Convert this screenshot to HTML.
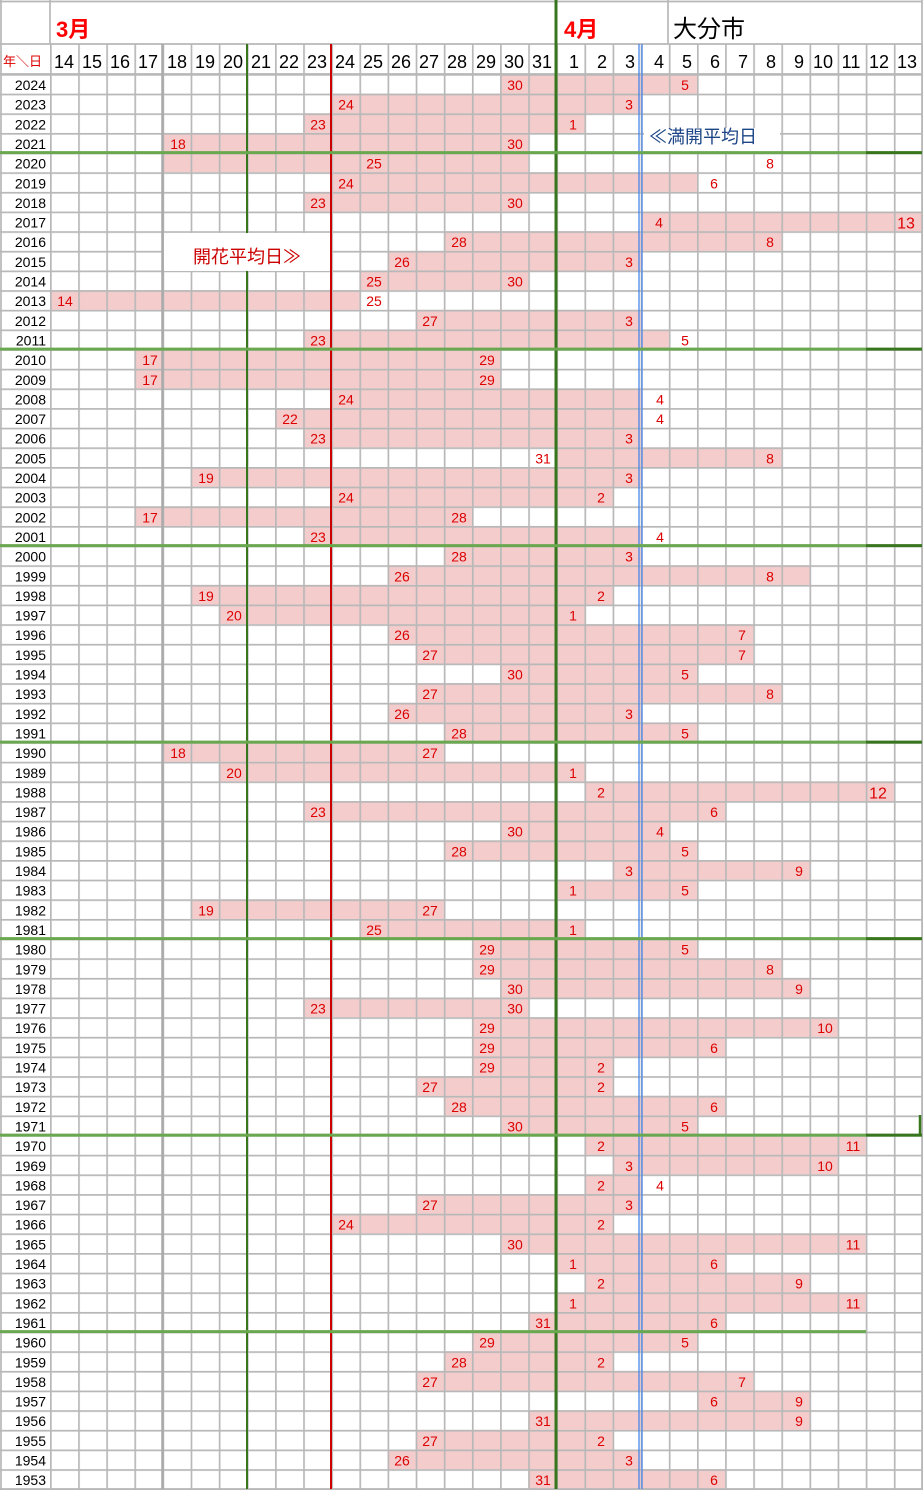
<!DOCTYPE html>
<html><head><meta charset="utf-8"><style>
html,body{margin:0;padding:0;background:#fff}
svg{display:block}
.y{font:14px "Liberation Sans",sans-serif;fill:#000;text-anchor:end}
.l{font:14px "Liberation Sans",sans-serif;fill:#d00;text-anchor:middle}
.d{font:18px "Liberation Sans",sans-serif;fill:#000;text-anchor:middle}
</style></head><body>
<svg width="924" height="1492" viewBox="0 0 924 1492" xmlns="http://www.w3.org/2000/svg">
<defs>
<pattern id="h" x="0" y="74" width="922" height="19.65" patternUnits="userSpaceOnUse"><path d="M0 0H922" stroke="#b8b8b8" stroke-width="3.4" fill="none"/></pattern>
<pattern id="v" x="50" y="44" width="28.129" height="1500" patternUnits="userSpaceOnUse"><path d="M0 0V1500" stroke="#b8b8b8" stroke-width="3.4" fill="none"/></pattern>
</defs>
<rect width="924" height="1492" fill="#fff"/>
<g transform="translate(50,74) scale(28.129,19.65)" fill="#f4cccc">
<rect x="16" y="0" width="7" height="1"/>
<rect x="10" y="1" width="11" height="1"/>
<rect x="9" y="2" width="10" height="1"/>
<rect x="4" y="3" width="13" height="1"/>
<rect x="4" y="4" width="13" height="1"/>
<rect x="10" y="5" width="13" height="1"/>
<rect x="9" y="6" width="8" height="1"/>
<rect x="21" y="7" width="10" height="1"/>
<rect x="14" y="8" width="12" height="1"/>
<rect x="12" y="9" width="9" height="1"/>
<rect x="11" y="10" width="6" height="1"/>
<rect x="0" y="11" width="11" height="1"/>
<rect x="13" y="12" width="8" height="1"/>
<rect x="9" y="13" width="13" height="1"/>
<rect x="3" y="14" width="13" height="1"/>
<rect x="3" y="15" width="13" height="1"/>
<rect x="10" y="16" width="11" height="1"/>
<rect x="8" y="17" width="13" height="1"/>
<rect x="9" y="18" width="12" height="1"/>
<rect x="18" y="19" width="8" height="1"/>
<rect x="5" y="20" width="16" height="1"/>
<rect x="10" y="21" width="10" height="1"/>
<rect x="3" y="22" width="12" height="1"/>
<rect x="9" y="23" width="12" height="1"/>
<rect x="14" y="24" width="7" height="1"/>
<rect x="12" y="25" width="15" height="1"/>
<rect x="5" y="26" width="15" height="1"/>
<rect x="6" y="27" width="13" height="1"/>
<rect x="12" y="28" width="13" height="1"/>
<rect x="13" y="29" width="12" height="1"/>
<rect x="16" y="30" width="7" height="1"/>
<rect x="13" y="31" width="13" height="1"/>
<rect x="12" y="32" width="9" height="1"/>
<rect x="14" y="33" width="9" height="1"/>
<rect x="4" y="34" width="10" height="1"/>
<rect x="6" y="35" width="13" height="1"/>
<rect x="19" y="36" width="11" height="1"/>
<rect x="9" y="37" width="15" height="1"/>
<rect x="16" y="38" width="6" height="1"/>
<rect x="14" y="39" width="9" height="1"/>
<rect x="20" y="40" width="7" height="1"/>
<rect x="18" y="41" width="5" height="1"/>
<rect x="5" y="42" width="9" height="1"/>
<rect x="11" y="43" width="8" height="1"/>
<rect x="15" y="44" width="8" height="1"/>
<rect x="15" y="45" width="11" height="1"/>
<rect x="16" y="46" width="11" height="1"/>
<rect x="9" y="47" width="8" height="1"/>
<rect x="15" y="48" width="13" height="1"/>
<rect x="15" y="49" width="9" height="1"/>
<rect x="15" y="50" width="5" height="1"/>
<rect x="13" y="51" width="7" height="1"/>
<rect x="14" y="52" width="10" height="1"/>
<rect x="16" y="53" width="7" height="1"/>
<rect x="19" y="54" width="10" height="1"/>
<rect x="20" y="55" width="8" height="1"/>
<rect x="19" y="56" width="2" height="1"/>
<rect x="13" y="57" width="8" height="1"/>
<rect x="10" y="58" width="10" height="1"/>
<rect x="16" y="59" width="13" height="1"/>
<rect x="18" y="60" width="6" height="1"/>
<rect x="19" y="61" width="8" height="1"/>
<rect x="18" y="62" width="11" height="1"/>
<rect x="17" y="63" width="7" height="1"/>
<rect x="15" y="64" width="8" height="1"/>
<rect x="14" y="65" width="6" height="1"/>
<rect x="13" y="66" width="12" height="1"/>
<rect x="23" y="67" width="4" height="1"/>
<rect x="17" y="68" width="10" height="1"/>
<rect x="13" y="69" width="7" height="1"/>
<rect x="12" y="70" width="9" height="1"/>
<rect x="17" y="71" width="7" height="1"/>
</g>
<rect x="0" y="73" width="922" height="1417" fill="url(#h)"/>
<rect x="49" y="44" width="874" height="1446" fill="url(#v)"/>
<path d="M0 1.5H922M0 44H922M0 74H922M0 1489H922M50 0V44M668 0V44M1 0V1490M922 0V1490" stroke="#b8b8b8" stroke-width="1.7" fill="none"/>
<path d="M162.5 44V1489" stroke="#aaa" stroke-width="2.5"/>
<path d="M247 44V1489" stroke="#38761d" stroke-width="2"/>
<path d="M331 44V1489" stroke="#cc0000" stroke-width="2"/>
<path d="M639 44V1489M642 44V1489" stroke="#4a86e8" stroke-width="1.3"/>
<path d="M556 0V1489" stroke="#38761d" stroke-width="3"/>
<g stroke-width="3">
<path d="M0 152.6H866M0 349.1H866M0 545.6H866M0 742.1H866M0 938.6H866M0 1135.1H866M0 1331.6H866" stroke="#6aa84f"/>
<path d="M866 152.6H922M866 349.1H922M866 545.6H922M866 742.1H922M866 938.6H922M866 1135.1H922" stroke="#38761d"/>
<path d="M920 1115V1136" stroke="#38761d" stroke-width="2.5"/>
</g>
<rect x="164" y="233" width="166" height="38" fill="#fff"/>
<text x="193" y="263" style="font:18px 'Liberation Sans','Noto Sans CJK JP',sans-serif;fill:#cc0000">開花平均日≫</text>
<rect x="644" y="128" width="136" height="23" fill="#fff"/>
<text x="649" y="143" style="font:18px 'Liberation Sans','Noto Sans CJK JP',sans-serif;fill:#1c4587">≪満開平均日</text>
<text x="56" y="37" style="font:bold 22px 'Liberation Sans','Noto Sans CJK JP',sans-serif;fill:#f00">3月</text>
<text x="564" y="37" style="font:bold 22px 'Liberation Sans','Noto Sans CJK JP',sans-serif;fill:#f00">4月</text>
<text x="673" y="37" style="font:24px 'Liberation Sans','Noto Sans CJK JP',sans-serif;fill:#000">大分市</text>
<text x="3" y="66" style="font:13px 'Liberation Sans','Noto Sans CJK JP',sans-serif;fill:#d00">年＼日</text>
<g class="d">
<text x="64" y="68">14</text><text x="92" y="68">15</text><text x="120" y="68">16</text><text x="148" y="68">17</text><text x="177" y="68">18</text><text x="205" y="68">19</text><text x="233" y="68">20</text><text x="261" y="68">21</text><text x="289" y="68">22</text><text x="317" y="68">23</text><text x="345" y="68">24</text><text x="373" y="68">25</text><text x="401" y="68">26</text><text x="429" y="68">27</text><text x="457" y="68">28</text><text x="486" y="68">29</text><text x="514" y="68">30</text><text x="542" y="68">31</text><text x="574" y="68">1</text><text x="602" y="68">2</text><text x="630" y="68">3</text><text x="659" y="68">4</text><text x="687" y="68">5</text><text x="715" y="68">6</text><text x="743" y="68">7</text><text x="771" y="68">8</text><text x="799" y="68">9</text><text x="823" y="68">10</text><text x="851" y="68">11</text><text x="879" y="68">12</text><text x="907" y="68">13</text>
</g>
<g class="y">
<text x="46" y="90">2024</text><text x="46" y="109.65">2023</text><text x="46" y="129.3">2022</text><text x="46" y="148.95">2021</text><text x="46" y="168.6">2020</text><text x="46" y="188.25">2019</text><text x="46" y="207.9">2018</text><text x="46" y="227.55">2017</text><text x="46" y="247.2">2016</text><text x="46" y="266.85">2015</text><text x="46" y="286.5">2014</text><text x="46" y="306.15">2013</text><text x="46" y="325.8">2012</text><text x="46" y="345.45">2011</text><text x="46" y="365.1">2010</text><text x="46" y="384.75">2009</text><text x="46" y="404.4">2008</text><text x="46" y="424.05">2007</text><text x="46" y="443.7">2006</text><text x="46" y="463.35">2005</text><text x="46" y="483">2004</text><text x="46" y="502.65">2003</text><text x="46" y="522.3">2002</text><text x="46" y="541.95">2001</text><text x="46" y="561.6">2000</text><text x="46" y="581.25">1999</text><text x="46" y="600.9">1998</text><text x="46" y="620.55">1997</text><text x="46" y="640.2">1996</text><text x="46" y="659.85">1995</text><text x="46" y="679.5">1994</text><text x="46" y="699.15">1993</text><text x="46" y="718.8">1992</text><text x="46" y="738.45">1991</text><text x="46" y="758.1">1990</text><text x="46" y="777.75">1989</text><text x="46" y="797.4">1988</text><text x="46" y="817.05">1987</text><text x="46" y="836.7">1986</text><text x="46" y="856.35">1985</text><text x="46" y="876">1984</text><text x="46" y="895.65">1983</text><text x="46" y="915.3">1982</text><text x="46" y="934.95">1981</text><text x="46" y="954.6">1980</text><text x="46" y="974.25">1979</text><text x="46" y="993.9">1978</text><text x="46" y="1013.55">1977</text><text x="46" y="1033.2">1976</text><text x="46" y="1052.85">1975</text><text x="46" y="1072.5">1974</text><text x="46" y="1092.15">1973</text><text x="46" y="1111.8">1972</text><text x="46" y="1131.45">1971</text><text x="46" y="1151.1">1970</text><text x="46" y="1170.75">1969</text><text x="46" y="1190.4">1968</text><text x="46" y="1210.05">1967</text><text x="46" y="1229.7">1966</text><text x="46" y="1249.35">1965</text><text x="46" y="1269">1964</text><text x="46" y="1288.65">1963</text><text x="46" y="1308.3">1962</text><text x="46" y="1327.95">1961</text><text x="46" y="1347.6">1960</text><text x="46" y="1367.25">1959</text><text x="46" y="1386.9">1958</text><text x="46" y="1406.55">1957</text><text x="46" y="1426.2">1956</text><text x="46" y="1445.85">1955</text><text x="46" y="1465.5">1954</text><text x="46" y="1485.15">1953</text>
</g>
<g class="l">
<text x="515" y="90">30</text><text x="685" y="90">5</text>
<text x="346" y="109.65">24</text><text x="629" y="109.65">3</text>
<text x="318" y="129.3">23</text><text x="573" y="129.3">1</text>
<text x="178" y="148.95">18</text><text x="515" y="148.95">30</text>
<text x="374" y="168.6">25</text><text x="770" y="168.6">8</text>
<text x="346" y="188.25">24</text><text x="714" y="188.25">6</text>
<text x="318" y="207.9">23</text><text x="515" y="207.9">30</text>
<text x="659" y="227.55">4</text><text x="906" y="228.5" style="font-size:16px">13</text>
<text x="459" y="247.2">28</text><text x="770" y="247.2">8</text>
<text x="402" y="266.85">26</text><text x="629" y="266.85">3</text>
<text x="374" y="286.5">25</text><text x="515" y="286.5">30</text>
<text x="65" y="306.15">14</text><text x="374" y="306.15">25</text>
<text x="430" y="325.8">27</text><text x="629" y="325.8">3</text>
<text x="318" y="345.45">23</text><text x="685" y="345.45">5</text>
<text x="150" y="365.1">17</text><text x="487" y="365.1">29</text>
<text x="150" y="384.75">17</text><text x="487" y="384.75">29</text>
<text x="346" y="404.4">24</text><text x="660" y="404.4">4</text>
<text x="290" y="424.05">22</text><text x="660" y="424.05">4</text>
<text x="318" y="443.7">23</text><text x="629" y="443.7">3</text>
<text x="543" y="463.35">31</text><text x="770" y="463.35">8</text>
<text x="206" y="483">19</text><text x="629" y="483">3</text>
<text x="346" y="502.65">24</text><text x="601" y="502.65">2</text>
<text x="150" y="522.3">17</text><text x="459" y="522.3">28</text>
<text x="318" y="541.95">23</text><text x="660" y="541.95">4</text>
<text x="459" y="561.6">28</text><text x="629" y="561.6">3</text>
<text x="402" y="581.25">26</text><text x="770" y="581.25">8</text>
<text x="206" y="600.9">19</text><text x="601" y="600.9">2</text>
<text x="234" y="620.55">20</text><text x="573" y="620.55">1</text>
<text x="402" y="640.2">26</text><text x="742" y="640.2">7</text>
<text x="430" y="659.85">27</text><text x="742" y="659.85">7</text>
<text x="515" y="679.5">30</text><text x="685" y="679.5">5</text>
<text x="430" y="699.15">27</text><text x="770" y="699.15">8</text>
<text x="402" y="718.8">26</text><text x="629" y="718.8">3</text>
<text x="459" y="738.45">28</text><text x="685" y="738.45">5</text>
<text x="178" y="758.1">18</text><text x="430" y="758.1">27</text>
<text x="234" y="777.75">20</text><text x="573" y="777.75">1</text>
<text x="601" y="797.4">2</text><text x="878" y="798.4" style="font-size:16px">12</text>
<text x="318" y="817.05">23</text><text x="714" y="817.05">6</text>
<text x="515" y="836.7">30</text><text x="660" y="836.7">4</text>
<text x="459" y="856.35">28</text><text x="685" y="856.35">5</text>
<text x="629" y="876">3</text><text x="799" y="876">9</text>
<text x="573" y="895.65">1</text><text x="685" y="895.65">5</text>
<text x="206" y="915.3">19</text><text x="430" y="915.3">27</text>
<text x="374" y="934.95">25</text><text x="573" y="934.95">1</text>
<text x="487" y="954.6">29</text><text x="685" y="954.6">5</text>
<text x="487" y="974.25">29</text><text x="770" y="974.25">8</text>
<text x="515" y="993.9">30</text><text x="799" y="993.9">9</text>
<text x="318" y="1013.55">23</text><text x="515" y="1013.55">30</text>
<text x="487" y="1033.2">29</text><text x="825" y="1033.2">10</text>
<text x="487" y="1052.85">29</text><text x="714" y="1052.85">6</text>
<text x="487" y="1072.5">29</text><text x="601" y="1072.5">2</text>
<text x="430" y="1092.15">27</text><text x="601" y="1092.15">2</text>
<text x="459" y="1111.8">28</text><text x="714" y="1111.8">6</text>
<text x="515" y="1131.45">30</text><text x="685" y="1131.45">5</text>
<text x="601" y="1151.1">2</text><text x="853" y="1151.1">11</text>
<text x="629" y="1170.75">3</text><text x="825" y="1170.75">10</text>
<text x="601" y="1190.4">2</text><text x="660" y="1190.4">4</text>
<text x="430" y="1210.05">27</text><text x="629" y="1210.05">3</text>
<text x="346" y="1229.7">24</text><text x="601" y="1229.7">2</text>
<text x="515" y="1249.35">30</text><text x="853" y="1249.35">11</text>
<text x="573" y="1269">1</text><text x="714" y="1269">6</text>
<text x="601" y="1288.65">2</text><text x="799" y="1288.65">9</text>
<text x="573" y="1308.3">1</text><text x="853" y="1308.3">11</text>
<text x="543" y="1327.95">31</text><text x="714" y="1327.95">6</text>
<text x="487" y="1347.6">29</text><text x="685" y="1347.6">5</text>
<text x="459" y="1367.25">28</text><text x="601" y="1367.25">2</text>
<text x="430" y="1386.9">27</text><text x="742" y="1386.9">7</text>
<text x="714" y="1406.55">6</text><text x="799" y="1406.55">9</text>
<text x="543" y="1426.2">31</text><text x="799" y="1426.2">9</text>
<text x="430" y="1445.85">27</text><text x="601" y="1445.85">2</text>
<text x="402" y="1465.5">26</text><text x="629" y="1465.5">3</text>
<text x="543" y="1485.15">31</text><text x="714" y="1485.15">6</text>
</g>
</svg>
</body></html>
